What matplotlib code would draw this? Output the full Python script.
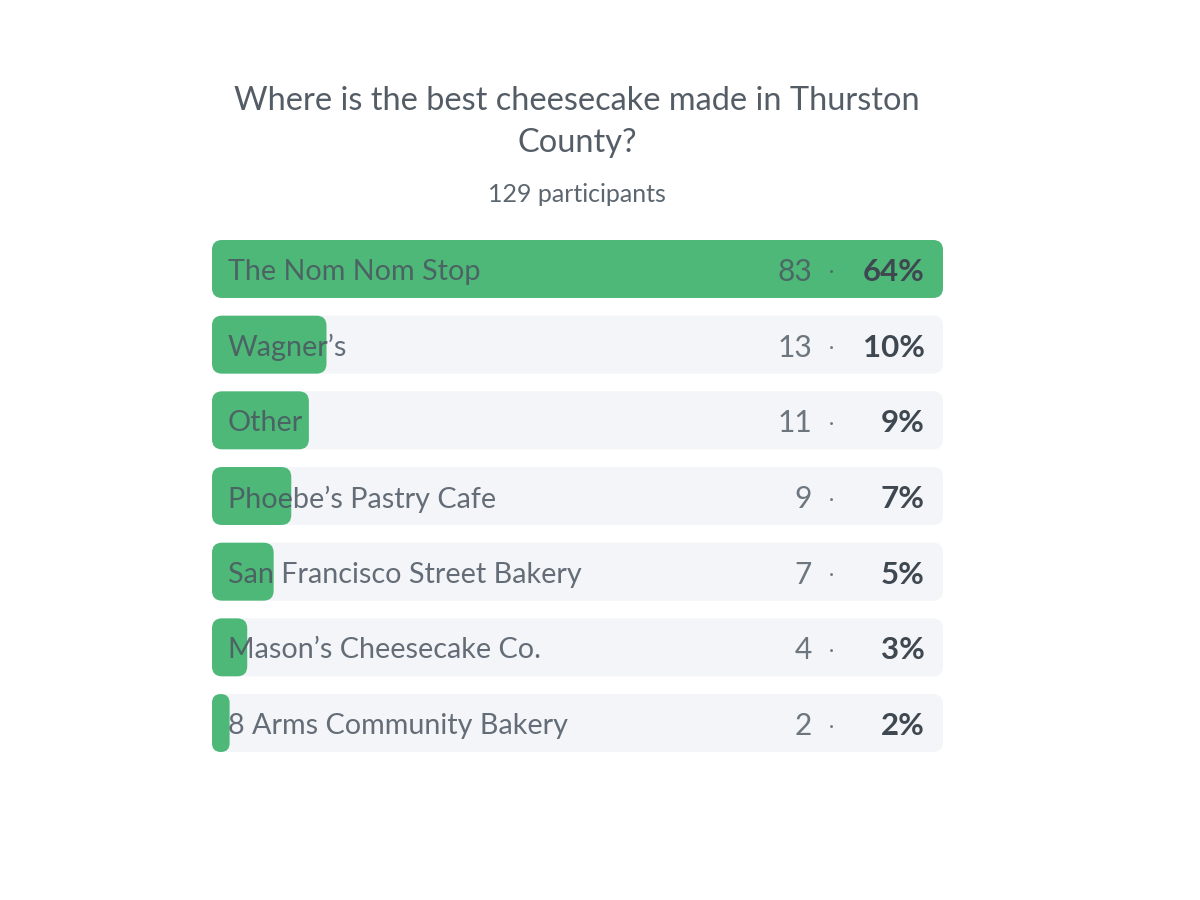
import matplotlib.pyplot as plt
from matplotlib.patches import FancyBboxPatch

question = ["Where is the best cheesecake made in Thurston", "County?"]
participants = 129
options = ["The Nom Nom Stop", "Wagner\u2019s", "Other", "Phoebe\u2019s Pastry Cafe",
           "San Francisco Street Bakery", "Mason\u2019s Cheesecake Co.", "8 Arms Community Bakery"]
votes = [83, 13, 11, 9, 7, 4, 2]
percents = [64, 10, 9, 7, 5, 3, 2]

green = "#4db878"
track = "#f3f5f8"
txt = "#4b5560"
plt.rcParams["font.family"] = ["Lato", "DejaVu Sans"]

W, H = 1200, 900
fig = plt.figure(figsize=(12, 9), dpi=100)
fig.patch.set_facecolor("white")

# axes covers the option tracks (pixels 212..943 x 240..752)
ax = fig.add_axes([212 / W, 1 - 752 / H, 731 / W, 512 / H])
ax.axis("off")
vmax = max(votes)
n = len(options)
ax.set_xlim(0, vmax)
half = 0.383
ax.set_ylim(n - 1 + half, -half)

px_x = 731 / vmax          # pixels per vote
px_y = 512 / (n - 1 + 2 * half)  # pixels per row
aspect = px_x / px_y
radius = 10 / px_x

def rounded(x0, y0, w, h, color, z):
    r = min(radius, w / 2)
    p = FancyBboxPatch((x0, y0), w, h, boxstyle=f"round,pad=0,rounding_size={r}",
                       mutation_aspect=aspect, fc=color, ec="none", zorder=z)
    ax.add_patch(p)

for i, (name, v, pc) in enumerate(zip(options, votes, percents)):
    rounded(0, i - half, vmax, 2 * half, track, 1)
    rounded(0, i - half, v, 2 * half, green, 2)
    ax.annotate(name, (0, i), xytext=(16, -3), textcoords="offset pixels",
                ha="left", va="center", fontsize=20.7, color=txt, alpha=0.85, zorder=3)
    ax.annotate(str(v), (vmax, i), xytext=(-131, -3), textcoords="offset pixels",
                ha="right", va="center", fontsize=21.5, color=txt, alpha=0.8, zorder=3)
    ax.annotate("\u00b7", (vmax, i), xytext=(-112, -3), textcoords="offset pixels",
                ha="center", va="center", fontsize=14, color=txt, alpha=0.8, zorder=3)
    ax.annotate(f"{pc}%", (vmax, i), xytext=(-18, -3), textcoords="offset pixels",
                ha="right", va="center", fontsize=22.5, fontweight="bold", color="#3f4850", zorder=3)

fig.text(577 / W, 1 - 101 / H, question[0], ha="center", va="center", fontsize=23.4, color="#545d66")
fig.text(577 / W, 1 - 143 / H, question[1], ha="center", va="center", fontsize=23.4, color="#545d66")
fig.text(577 / W, 1 - 195 / H, f"{participants} participants", ha="center", va="center",
         fontsize=18, color="#5c6670")

fig.savefig("out.png", dpi=100, facecolor="white")
